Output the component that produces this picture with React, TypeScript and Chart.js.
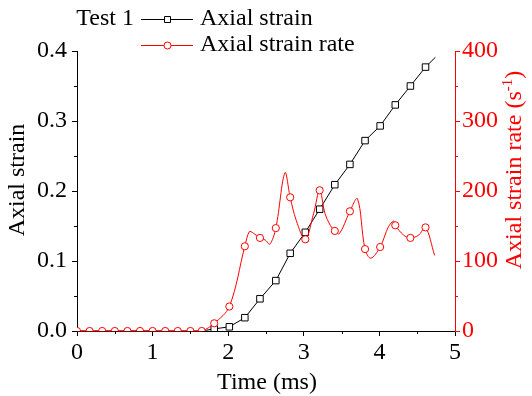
import React, { useEffect, useRef } from "react";
import { Chart, registerables } from "chart.js";

Chart.register(...registerables);

const FONT = "'Liberation Serif', 'Times New Roman', serif";
const RED = "#ff0000";
const BLACK = "#000000";

// Axis ticks
const xMajorTicks = [0, 1, 2, 3, 4, 5];
const xMinorTicks = [0.5, 1.5, 2.5, 3.5, 4.5];
const strainMajorTicks = [0, 0.1, 0.2, 0.3, 0.4];
const strainMinorTicks = [0.05, 0.15, 0.25, 0.35];
const rateMajorTicks = [0, 100, 200, 300, 400];
const rateMinorTicks = [50, 150, 250, 350];

// Axial strain (black squares)
const strainMarkerTimes = [1.815, 2.015, 2.22, 2.42, 2.63, 2.82, 3.02, 3.21, 3.41, 3.61, 3.81, 4.01, 4.21, 4.41, 4.61];
const strainMarkerValues = [0.003, 0.006, 0.019, 0.046, 0.072, 0.111, 0.141, 0.174, 0.209, 0.238, 0.272, 0.293, 0.323, 0.35, 0.377];
const strainLineExtraTimes = [0, 1.65, 4.74];
const strainLineExtraValues = [0, 0, 0.391];

// Axial strain rate (red circles)
const rateMarkerTimes = [0, 0.167, 0.333, 0.5, 0.667, 0.833, 1.0, 1.167, 1.333, 1.5, 1.65, 1.815, 2.015, 2.22, 2.42, 2.63, 2.82, 3.02, 3.21, 3.41, 3.61, 3.81, 4.01, 4.21, 4.41, 4.61];
const rateMarkerValues = [0, 0, 0, 0, 0, 0, 0, 0, 0, 0, 0, 11, 35, 121, 133, 147, 191, 131, 201, 143, 171, 117, 120, 151, 133, 148];
const rateCurveTimes = [2.28, 2.33, 2.49, 2.55, 2.75, 2.9, 3.13, 3.28, 3.35, 3.47, 3.71, 3.886, 4.12, 4.19, 4.32, 4.52, 4.73];
const rateCurveValues = [142, 140, 130, 124, 226, 158, 168, 168, 151, 139, 189, 104, 149, 157, 137, 137, 108];

const toPoints = (xs: number[], ys: number[]) => xs.map((x, i) => ({ x, y: ys[i] }));
const merged = (a: { x: number; y: number }[], b: { x: number; y: number }[]) =>
  [...a, ...b].sort((p, q) => p.x - q.x);

const clipPlugin = {
  id: "areaClip",
  beforeDatasetDraw(chart: any, args: any) {
    const { ctx, chartArea } = chart;
    const extra = args.meta._dataset && args.meta._dataset.showLine === false ? 0 : 1;
    ctx.save();
    ctx.beginPath();
    ctx.rect(chartArea.left, chartArea.top - 1, chartArea.right - chartArea.left, chartArea.bottom - chartArea.top + 1 + extra);
    ctx.clip();
  },
  afterDatasetDraw(chart: any) {
    chart.ctx.restore();
  },
};

const minorTicksPlugin = {
  id: "minorTicks",
  afterDraw(chart: any) {
    const { ctx, chartArea } = chart;
    const { x, y, y1 } = chart.scales;
    ctx.save();
    ctx.lineWidth = 1;
    ctx.strokeStyle = BLACK;
    ctx.beginPath();
    for (const v of xMinorTicks) {
      const px = Math.round(x.getPixelForValue(v)) + 0.5;
      ctx.moveTo(px, chartArea.bottom);
      ctx.lineTo(px, chartArea.bottom + 3);
    }
    for (const v of strainMinorTicks) {
      const py = Math.round(y.getPixelForValue(v)) + 0.5;
      ctx.moveTo(chartArea.left, py);
      ctx.lineTo(chartArea.left - 3, py);
    }
    ctx.stroke();
    ctx.strokeStyle = RED;
    ctx.beginPath();
    for (const v of rateMinorTicks) {
      const py = Math.round(y1.getPixelForValue(v)) + 0.5;
      ctx.moveTo(chartArea.right, py);
      ctx.lineTo(chartArea.right + 3, py);
    }
    ctx.stroke();
    ctx.restore();
  },
};

const textPlugin = {
  id: "texts",
  afterDraw(chart: any) {
    const { ctx } = chart;
    ctx.save();
    ctx.textBaseline = "middle";
    const big = `24px ${FONT}`;
    const small = `15px ${FONT}`;

    // x title
    ctx.font = big;
    ctx.fillStyle = BLACK;
    ctx.textAlign = "center";
    ctx.fillText("Time (ms)", 267, 383);

    // left title
    ctx.save();
    ctx.translate(18, 180);
    ctx.rotate(-Math.PI / 2);
    ctx.fillText("Axial strain", 0, 0);
    ctx.restore();

    // right title with superscript
    ctx.save();
    ctx.translate(515, 170);
    ctx.rotate(-Math.PI / 2);
    ctx.fillStyle = RED;
    ctx.textAlign = "left";
    const p1 = "Axial strain rate (s";
    const p2 = "-1";
    const p3 = ")";
    ctx.font = big;
    const w1 = ctx.measureText(p1).width;
    const w3 = ctx.measureText(p3).width;
    ctx.font = small;
    const w2 = ctx.measureText(p2).width;
    const total = w1 + w2 + w3;
    let cx = -total / 2;
    ctx.font = big;
    ctx.fillText(p1, cx, 0);
    cx += w1;
    ctx.font = small;
    ctx.fillText(p2, cx, -7);
    cx += w2;
    ctx.font = big;
    ctx.fillText(p3, cx, 0);
    ctx.restore();

    // legend
    const rows = [
      { label: "Axial strain", color: BLACK, style: "rect", y: 19 },
      { label: "Axial strain rate", color: RED, style: "circle", y: 45 },
    ];
    ctx.font = big;
    ctx.fillStyle = BLACK;
    ctx.textAlign = "right";
    ctx.fillText("Test 1", 134, 19);
    for (const r of rows) {
      ctx.strokeStyle = r.color;
      ctx.lineWidth = 1;
      ctx.beginPath();
      ctx.moveTo(141, r.y + 0.5);
      ctx.lineTo(193, r.y + 0.5);
      ctx.stroke();
      ctx.fillStyle = "#ffffff";
      ctx.beginPath();
      if (r.style === "rect") {
        ctx.rect(164.5, r.y - 2.5, 6, 6);
      } else {
        ctx.arc(167.5, r.y + 0.5, 3.5, 0, Math.PI * 2);
      }
      ctx.fill();
      ctx.stroke();
      ctx.fillStyle = BLACK;
      ctx.textAlign = "left";
      ctx.fillText(r.label, 200, r.y);
    }
    ctx.restore();
  },
};

export default function App() {
  const ref = useRef<HTMLCanvasElement>(null);
  useEffect(() => {
    document.body.style.margin = "0";
    const canvas = ref.current!;
    const strainMarkers = toPoints(strainMarkerTimes, strainMarkerValues);
    const strainLine = merged(strainMarkers, toPoints(strainLineExtraTimes, strainLineExtraValues));
    const rateMarkers = toPoints(rateMarkerTimes, rateMarkerValues);
    const rateLine = merged(rateMarkers, toPoints(rateCurveTimes, rateCurveValues));
    const tickFont = { family: FONT, size: 24 };

    const chart = new Chart(canvas, {
      type: "line",
      data: {
        datasets: [
          {
            label: "Axial strain rate",
            data: rateMarkers,
            yAxisID: "y1",
            showLine: false,
            pointStyle: "circle",
            pointRadius: 3.6,
            pointBorderWidth: 1,
            pointBorderColor: RED,
            pointBackgroundColor: "#ffffff",
            borderColor: RED,
            order: 0,
            clip: 0,
          } as any,
          {
            label: "rate-line",
            data: rateLine,
            yAxisID: "y1",
            borderColor: RED,
            borderWidth: 1,
            pointRadius: 0,
            tension: 0.35,
            order: 1,
            clip: 1,
          } as any,
          {
            label: "Axial strain",
            data: strainMarkers,
            yAxisID: "y",
            showLine: false,
            pointStyle: "rect",
            pointRadius: 4.6,
            pointBorderWidth: 1,
            pointBorderColor: BLACK,
            pointBackgroundColor: "#ffffff",
            borderColor: BLACK,
            order: 2,
            clip: 0,
          } as any,
          {
            label: "strain-line",
            data: strainLine,
            yAxisID: "y",
            borderColor: BLACK,
            borderWidth: 1,
            pointRadius: 0,
            tension: 0,
            order: 3,
            clip: 1,
          } as any,
        ],
      },
      options: {
        responsive: false,
        devicePixelRatio: 1,
        animation: false,
        events: [],
        layout: { padding: { top: 51, left: 0, right: 0, bottom: 0 } },
        plugins: { legend: { display: false }, tooltip: { enabled: false } },
        scales: {
          x: {
            type: "linear",
            position: "bottom",
            min: 0,
            max: 5,
            afterBuildTicks: (s: any) => {
              s.ticks = xMajorTicks.map((v) => ({ value: v }));
            },
            ticks: { font: tickFont, color: BLACK, padding: 2, maxRotation: 0 },
            grid: { drawOnChartArea: false, drawTicks: true, tickLength: 5, color: BLACK },
            border: { display: true, color: BLACK, width: 1 },
            afterFit: (s: any) => {
              s.height = 65;
            },
          },
          y: {
            type: "linear",
            position: "left",
            min: 0,
            max: 0.4,
            afterBuildTicks: (s: any) => {
              s.ticks = strainMajorTicks.map((v) => ({ value: v }));
            },
            ticks: { font: tickFont, color: BLACK, padding: 5, callback: (v: any) => Number(v).toFixed(1) },
            grid: { drawOnChartArea: false, drawTicks: true, tickLength: 5, color: BLACK },
            border: { display: true, color: BLACK, width: 1 },
            afterFit: (s: any) => {
              s.width = 77;
            },
          },
          y1: {
            type: "linear",
            position: "right",
            min: 0,
            max: 400,
            afterBuildTicks: (s: any) => {
              s.ticks = rateMajorTicks.map((v) => ({ value: v }));
            },
            ticks: { font: tickFont, color: RED, padding: 2, callback: (v: any) => String(v) },
            grid: { drawOnChartArea: false, drawTicks: true, tickLength: 5, color: RED },
            border: { display: true, color: RED, width: 1 },
            afterFit: (s: any) => {
              s.width = 77;
            },
          },
        },
      } as any,
      plugins: [clipPlugin, minorTicksPlugin, textPlugin],
    });
    return () => chart.destroy();
  }, []);
  return (
    <div style={{ width: 532, height: 396 }}>
      <canvas ref={ref} width={532} height={396} style={{ display: "block" }} />
    </div>
  );
}
